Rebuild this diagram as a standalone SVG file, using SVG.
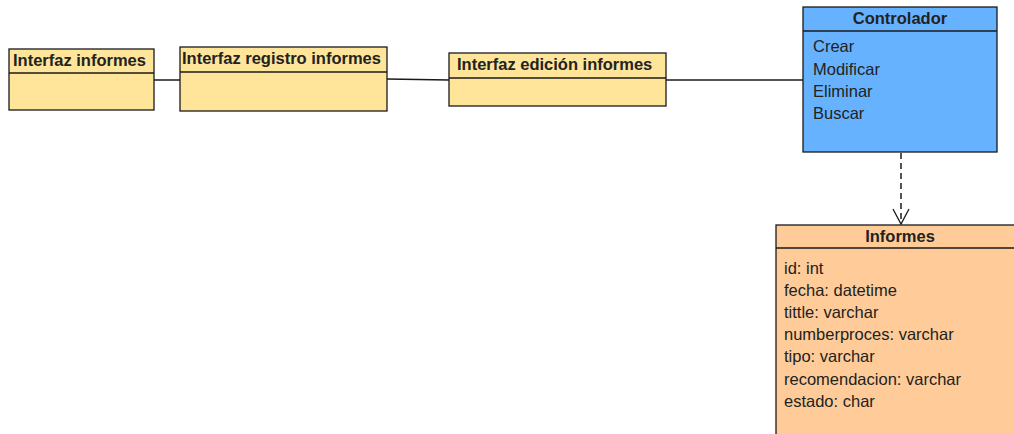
<svg xmlns="http://www.w3.org/2000/svg" width="1014" height="434" viewBox="0 0 1014 434">
  <style>
    .box { stroke: #1a1a1a; stroke-width: 1.3; }
    .ui { fill: #FFE599; }
    .ctrl { fill: #66B2FF; }
    .ent { fill: #FFCC99; }
    .div { stroke: #1a1a1a; stroke-width: 1.3; fill: none; }
    .title { font-family: "Liberation Sans", Arial, sans-serif; font-size: 16.5px; font-weight: bold; fill: #222222; }
    .item { font-family: "Liberation Sans", Arial, sans-serif; font-size: 16.5px; fill: #222222; }
    .link { stroke: #1a1a1a; stroke-width: 1.5; fill: none; }
    .dep { stroke: #1a1a1a; stroke-width: 1.5; fill: none; stroke-dasharray: 6 4; }
  </style>
  <defs>
    <!-- open "V" head for the dependency arrow, drawn along +x so orient="auto" turns it -->
    <marker id="openArrow" markerWidth="20" markerHeight="20" refX="16" refY="9" orient="auto" markerUnits="userSpaceOnUse">
      <path d="M1,1 L16,9 L1,17" fill="none" stroke="#1a1a1a" stroke-width="1.3"/>
    </marker>
  </defs>
  <rect width="1014" height="434" fill="#ffffff"/>

  <!-- connectors -->
  <g id="connectors">
    <line class="link" x1="154" y1="80" x2="180" y2="80"/>
    <line class="link" x1="387" y1="79" x2="449" y2="80"/>
    <line class="link" x1="666" y1="80" x2="803" y2="80"/>
    <line class="dep" x1="901" y1="153" x2="901" y2="224" marker-end="url(#openArrow)"/>
  </g>

  <g id="interfaz-informes">
    <rect class="box ui" x="9" y="49" width="145" height="61"/>
    <line class="div" x1="9" y1="73" x2="154" y2="73"/>
    <text class="title" x="13" y="66">Interfaz informes</text>
  </g>

  <g id="interfaz-registro">
    <rect class="box ui" x="180" y="47" width="207" height="64"/>
    <line class="div" x1="180" y1="72" x2="387" y2="72"/>
    <text class="title" x="182" y="64">Interfaz registro informes</text>
  </g>

  <g id="interfaz-edicion">
    <rect class="box ui" x="449" y="53" width="217" height="53"/>
    <line class="div" x1="449" y1="78" x2="666" y2="78"/>
    <text class="title" x="457" y="70">Interfaz edición informes</text>
  </g>

  <g id="controlador">
    <rect class="box ctrl" x="803" y="7" width="194" height="145"/>
    <line class="div" x1="803" y1="31" x2="997" y2="31"/>
    <text class="title" x="900" y="24" text-anchor="middle">Controlador</text>
    <text class="item" x="813" y="52">Crear</text>
    <text class="item" x="813" y="75">Modificar</text>
    <text class="item" x="813" y="97">Eliminar</text>
    <text class="item" x="813" y="119">Buscar</text>
  </g>

  <g id="informes">
    <rect class="box ent" x="776" y="225" width="250" height="220"/>
    <line class="div" x1="776" y1="248" x2="1014" y2="248"/>
    <text class="title" x="900" y="242" text-anchor="middle">Informes</text>
    <text class="item" x="784" y="274">id: int</text>
    <text class="item" x="784" y="296">fecha: datetime</text>
    <text class="item" x="784" y="318">tittle: varchar</text>
    <text class="item" x="784" y="340">numberproces: varchar</text>
    <text class="item" x="784" y="362">tipo: varchar</text>
    <text class="item" x="784" y="385">recomendacion: varchar</text>
    <text class="item" x="784" y="407">estado: char</text>
  </g>
</svg>
